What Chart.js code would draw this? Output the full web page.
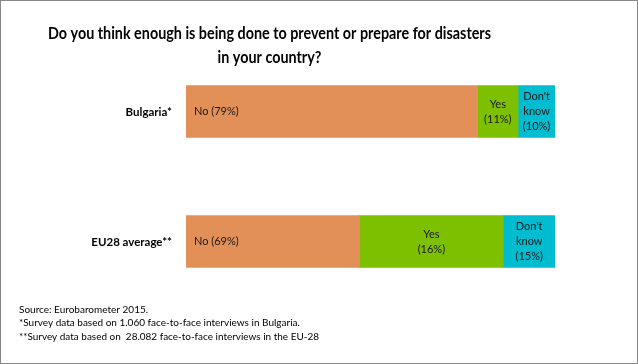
<!DOCTYPE html>
<html>
<head>
<meta charset="utf-8">
<script src="https://cdn.jsdelivr.net/npm/chart.js@4.4.0/dist/chart.umd.min.js"></script>
<style>
  html, body { margin: 0; padding: 0; background: #fff; }
  #wrap { position: relative; width: 638px; height: 364px; }
  #wrap canvas { position: absolute; left: 0; top: 0; }
  #frame { position: absolute; left: 0; top: 0; width: 638px; height: 364px; box-sizing: border-box; border: 1px solid #878787; pointer-events: none; }
</style>
</head>
<body>
<div id="wrap">
  <canvas id="chart" width="638" height="364"></canvas>
  <div id="frame"></div>
</div>
<script>
// bar lengths as drawn in the picture; the printed labels are kept separately
const categories = ['Bulgaria*', 'EU28 average**'];
const noValues = [79, 47];
const yesValues = [11, 39];
const dkValues = [10, 14];

const noLabels = [['No (79%)'], ['No (69%)']];
const yesLabels = [['Yes', '(11%)'], ['Yes', '(16%)']];
const dkLabels = [["Don't", 'know', '(10%)'], ["Don't", 'know', '(15%)']];

const titleLines = ['Do you think enough is being done to prevent or prepare for disasters', 'in your country?'];
const notes = [
  'Source: Eurobarometer 2015.',
  '*Survey data based on 1.060 face-to-face interviews in Bulgaria.',
  '**Survey data based on  28.082 face-to-face interviews in the EU-28'
];

const FONT = 'Lato, "Open Sans", sans-serif';

const textPlugin = {
  id: 'textPlugin',
  afterDatasetsDraw(chart) {
    const ctx = chart.ctx;
    const lbls = [noLabels, yesLabels, dkLabels];
    ctx.save();
    ctx.fillStyle = '#1a1a1a';
    ctx.font = '11px ' + FONT;
    ctx.textBaseline = 'middle';
    lbls.forEach((set, i) => {
      const meta = chart.getDatasetMeta(i);
      meta.data.forEach((bar, j) => {
        const lines = set[j];
        const lh = 15;
        const y0 = bar.y - (lines.length - 1) * lh / 2;
        if (i === 0) {
          ctx.textAlign = 'left';
          lines.forEach((t, k) => ctx.fillText(t, bar.base + 8, y0 + k * lh));
        } else {
          ctx.textAlign = 'center';
          const cx = (bar.x + bar.base) / 2;
          lines.forEach((t, k) => ctx.fillText(t, cx, y0 + k * lh));
        }
      });
    });

    // category names
    const yScale = chart.scales.y;
    ctx.fillStyle = '#000';
    ctx.font = 'bold 11.5px ' + FONT;
    ctx.textAlign = 'right';
    categories.forEach((c, j) => {
      ctx.fillText(c, chart.chartArea.left - 14, yScale.getPixelForValue(j) + 0.5);
    });

    // title, squeezed sideways to the narrow look of the original font
    ctx.font = 'bold 17px ' + FONT;
    ctx.textAlign = 'center';
    ctx.textBaseline = 'alphabetic';
    const sx = 443 / ctx.measureText(titleLines[0]).width;
    ctx.save();
    ctx.translate(269.5, 0);
    ctx.scale(sx, 1);
    ctx.fillText(titleLines[0], 0, 38.5);
    ctx.fillText(titleLines[1], 0, 62.5);
    ctx.restore();

    // footnotes
    ctx.font = '10px ' + FONT;
    ctx.textAlign = 'left';
    ctx.textBaseline = 'alphabetic';
    notes.forEach((t, k) => ctx.fillText(t, 19, 312.5 + k * 13.5, 300));
    ctx.restore();
  }
};

new Chart(document.getElementById('chart'), {
  type: 'bar',
  data: {
    labels: categories,
    datasets: [
      { label: 'No', data: noValues, backgroundColor: '#E38F58' },
      { label: 'Yes', data: yesValues, backgroundColor: '#7DC000' },
      { label: "Don't know", data: dkValues, backgroundColor: '#00BCD0' }
    ]
  },
  options: {
    indexAxis: 'y',
    responsive: false,
    animation: false,
    devicePixelRatio: 1,
    layout: {
      padding: { left: 186, right: 83, top: 46.5, bottom: 57.5 }
    },
    datasets: {
      bar: { barThickness: 52, borderWidth: 0 }
    },
    scales: {
      x: { stacked: true, min: 0, max: 100, display: false },
      y: { stacked: true, display: false }
    },
    plugins: {
      legend: { display: false },
      tooltip: { enabled: false }
    }
  },
  plugins: [textPlugin]
});
</script>
</body>
</html>
